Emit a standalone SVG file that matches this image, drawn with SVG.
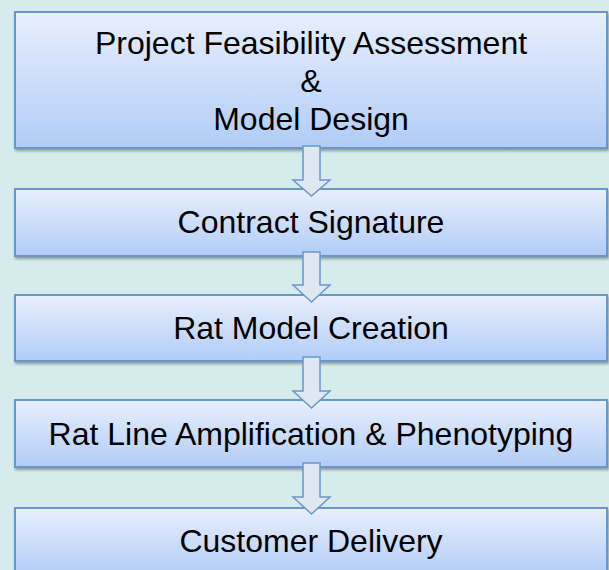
<svg xmlns="http://www.w3.org/2000/svg" width="609" height="570" viewBox="0 0 609 570">
  <defs>
    <linearGradient id="boxGrad" x1="0" y1="0" x2="0" y2="1">
      <stop offset="0" stop-color="#e8effd"/>
      <stop offset="1" stop-color="#b2ccf6"/>
    </linearGradient>
    <filter id="shadow" x="-5%" y="-10%" width="110%" height="130%">
      <feDropShadow dx="1" dy="2" stdDeviation="1.5" flood-color="#000" flood-opacity="0.35"/>
    </filter>
    <style>
      .box { fill: url(#boxGrad); stroke: #6b97cb; stroke-width: 2; filter: url(#shadow); }
      .lbl { font-family: "Liberation Sans", Arial, sans-serif; font-size: 32px; fill: #000; text-anchor: middle; }
      .arrow { fill: #dfe7f1; stroke: #6b97cb; stroke-width: 1.5; stroke-linejoin: miter; }
    </style>
  </defs>
  <rect width="609" height="570" fill="#d6ebec"/>

  <g id="node-feasibility">
    <rect class="box" x="15" y="12" width="592" height="136"/>
    <text class="lbl" x="311" y="54">Project Feasibility Assessment</text>
    <text class="lbl" x="311" y="92">&amp;</text>
    <text class="lbl" x="311" y="130">Model Design</text>
  </g>
  <g id="node-contract">
    <rect class="box" x="15" y="189" width="592" height="67"/>
    <text class="lbl" x="311" y="233">Contract Signature</text>
  </g>
  <g id="node-creation">
    <rect class="box" x="15" y="295" width="592" height="66"/>
    <text class="lbl" x="311" y="339">Rat Model Creation</text>
  </g>
  <g id="node-amplification">
    <rect class="box" x="15" y="400" width="592" height="67"/>
    <text class="lbl" x="311" y="445">Rat Line Amplification &amp; Phenotyping</text>
  </g>
  <g id="node-delivery">
    <rect class="box" x="15" y="508" width="592" height="68"/>
    <text class="lbl" x="311" y="552">Customer Delivery</text>
  </g>

  <g id="connectors">
    <path class="arrow" d="M303,146 L320,146 L320,180 L330,180 L311.5,196 L293,180 L303,180 Z"/>
    <path class="arrow" d="M303,252 L320,252 L320,285 L330,285 L311.5,302 L293,285 L303,285 Z"/>
    <path class="arrow" d="M303,357 L320,357 L320,391 L330,391 L311.5,408 L293,391 L303,391 Z"/>
    <path class="arrow" d="M303,463 L320,463 L320,497 L330,497 L311.5,514 L293,497 L303,497 Z"/>
  </g>
</svg>
